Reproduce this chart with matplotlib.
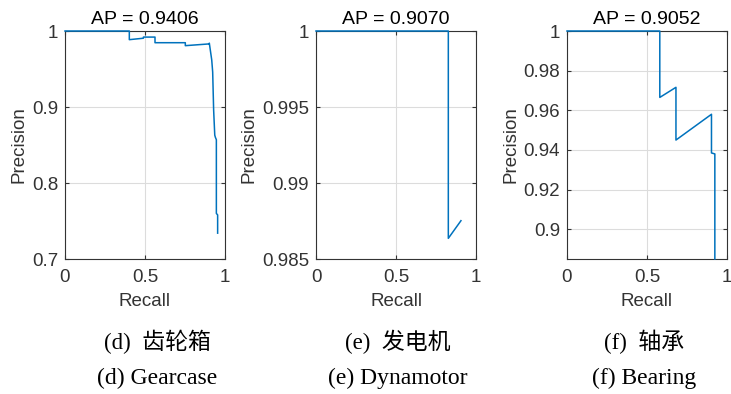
import matplotlib.pyplot as plt
import matplotlib.ticker as mticker

# PR curves
gear_recall = [0.0, 0.402, 0.402, 0.49, 0.49, 0.5625, 0.5625, 0.752, 0.752, 0.90,
               0.902, 0.917, 0.923, 0.929, 0.936, 0.940, 0.946, 0.946, 0.954, 0.954]
gear_prec = [1.0, 1.0, 0.9886, 0.9905, 0.992, 0.992, 0.9846, 0.9846, 0.9807, 0.983,
             0.984, 0.962, 0.946, 0.896, 0.863, 0.860, 0.857, 0.760, 0.758, 0.734]

dyn_recall = [0.0, 0.827, 0.827, 0.906]
dyn_prec = [1.0, 1.0, 0.98636, 0.98752]

bear_recall = [0.0, 0.58, 0.58, 0.681, 0.681, 0.903, 0.903, 0.924, 0.924]
bear_prec = [1.0, 1.0, 0.9665, 0.9716, 0.945, 0.958, 0.9385, 0.938, 0.885]

titles = ['AP = 0.9406', 'AP = 0.9070', 'AP = 0.9052']
yticks = [[0.7, 0.8, 0.9, 1.0],
          [0.985, 0.99, 0.995, 1.0],
          [0.9, 0.92, 0.94, 0.96, 0.98, 1.0]]
ylims = [(0.7, 1.0), (0.985, 1.0), (0.885, 1.0)]
captions_cn = ['(d)  齿轮箱', '(e)  发电机', '(f)  轴承']
captions_en = ['(d) Gearcase', '(e) Dynamotor', '(f) Bearing']

plt.rcParams['font.family'] = ['Liberation Sans', 'DejaVu Sans']
dark = '#333333'

fig = plt.figure(figsize=(7.31, 3.94), dpi=100)
lefts = [65 / 731, 316 / 731, 567 / 731]
curves = [(gear_recall, gear_prec), (dyn_recall, dyn_prec), (bear_recall, bear_prec)]
cap_x = [157 / 731, 398 / 731, 644 / 731]

for i in range(3):
    ax = fig.add_axes([lefts[i], 135 / 394, 160 / 731, 228 / 394])
    r, p = curves[i]
    ax.plot(r, p, color='#0072BD', lw=1.1, clip_on=False, zorder=3)
    ax.set_xlim(0, 1)
    ax.set_ylim(*ylims[i])
    ax.set_xticks([0, 0.5, 1])
    ax.set_yticks(yticks[i])
    ax.xaxis.set_major_formatter(mticker.FormatStrFormatter('%g'))
    ax.yaxis.set_major_formatter(mticker.FormatStrFormatter('%g'))
    ax.grid(True, color='#dcdcdc', lw=0.8)
    ax.tick_params(direction='in', length=3, top=True, right=True,
                   labelsize=13.5, colors=dark)
    ax.tick_params(axis='x', pad=7)
    ax.tick_params(axis='y', pad=5)
    for s in ax.spines.values():
        s.set_color(dark)
        s.set_linewidth(0.8)
    ax.set_title(titles[i], fontsize=14, color='black', pad=5)
    ax.set_xlabel('Recall', fontsize=13.5, color=dark, labelpad=5)
    ax.set_ylabel('Precision', fontsize=13.5, color=dark, labelpad=3)

    fig.text(cap_x[i], 1 - 342 / 394, captions_cn[i], ha='center', va='center',
             fontsize=16.5, family=['Liberation Serif', 'Noto Sans CJK SC'])
    fig.text(cap_x[i], 1 - 378 / 394, captions_en[i], ha='center', va='center',
             fontsize=17, family=['Liberation Serif'])

fig.savefig('out.png', dpi=100)
